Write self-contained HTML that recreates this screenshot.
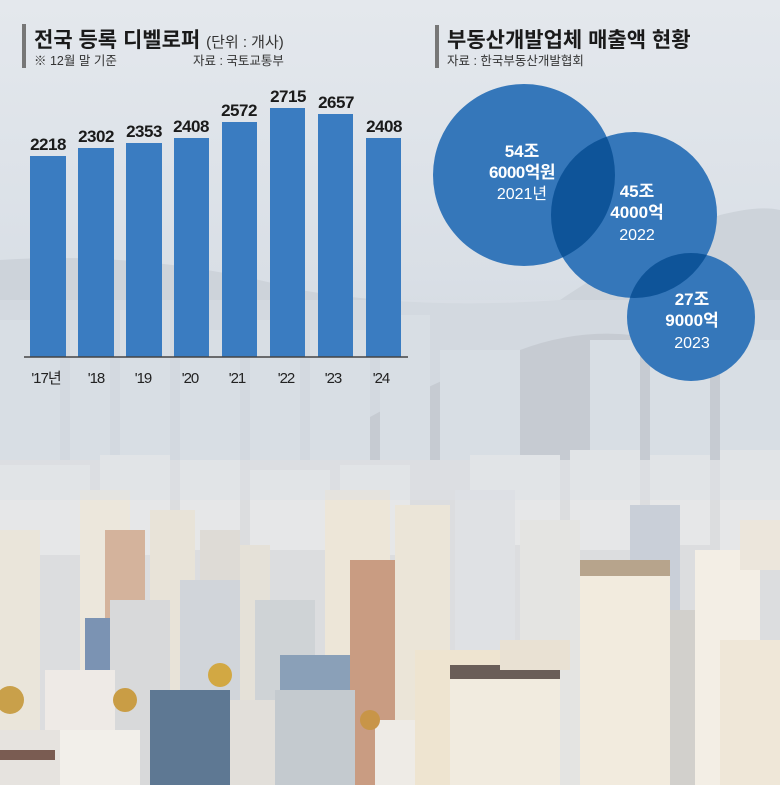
<!DOCTYPE html>
<html><head><meta charset="utf-8"><style>
html,body{margin:0;padding:0}
body{width:780px;height:785px;overflow:hidden;font-family:"Liberation Sans","Noto Sans CJK KR",sans-serif}
</style></head><body>
<svg width="780" height="785" viewBox="0 0 780 785" xmlns="http://www.w3.org/2000/svg" font-family="Liberation Sans, Noto Sans CJK KR, sans-serif">
<defs>
<linearGradient id="sky" x1="0" y1="0" x2="0" y2="1">
<stop offset="0" stop-color="#e4e8ed"/><stop offset="0.35" stop-color="#d9dfe6"/><stop offset="0.55" stop-color="#ced5dc"/><stop offset="1" stop-color="#d4d2cc"/>
</linearGradient>
<clipPath id="c1"><circle cx="524" cy="175" r="91"/></clipPath>
<clipPath id="c2"><circle cx="634" cy="215" r="83"/></clipPath>
</defs>
<rect width="780" height="785" fill="url(#sky)"/>
<!-- mountains -->
<path d="M0 260 Q150 250 300 290 Q420 310 560 300 Q650 240 720 215 Q760 205 780 210 L780 500 L0 500Z" fill="#cdd3da"/>
<path d="M330 440 Q430 380 520 350 Q600 320 680 345 Q740 360 780 350 L780 470 L330 470Z" fill="#a9b1b6" opacity="0.7"/>
<!-- far buildings -->
<g fill="#d6dce2">
<rect x="0" y="320" width="60" height="160"/><rect x="70" y="330" width="40" height="150"/><rect x="120" y="310" width="50" height="170"/>
<rect x="180" y="330" width="60" height="150"/><rect x="250" y="320" width="50" height="160"/><rect x="310" y="330" width="60" height="150"/>
<rect x="380" y="315" width="50" height="165"/><rect x="440" y="350" width="80" height="130"/><rect x="590" y="340" width="50" height="140"/>
<rect x="650" y="360" width="60" height="120"/><rect x="720" y="340" width="60" height="140"/>
</g>
<!-- mid city -->
<g fill="#e6e7e8">
<rect x="0" y="460" width="780" height="330" fill="#dcdddf"/>
<rect x="0" y="465" width="90" height="90"/><rect x="100" y="455" width="70" height="100"/><rect x="180" y="460" width="60" height="90"/>
<rect x="250" y="470" width="80" height="80"/><rect x="340" y="465" width="70" height="90"/><rect x="470" y="455" width="90" height="90"/>
<rect x="570" y="450" width="70" height="100"/><rect x="650" y="455" width="60" height="90"/><rect x="720" y="450" width="60" height="100"/>
</g>
<g>
<rect x="0" y="530" width="40" height="255" fill="#eae5da"/>
<rect x="80" y="490" width="50" height="295" fill="#ece7dc"/>
<rect x="105" y="530" width="40" height="255" fill="#d4b39c"/>
<rect x="150" y="510" width="45" height="275" fill="#e8e3d8"/>
<rect x="200" y="530" width="40" height="255" fill="#dedbd6"/>
<rect x="240" y="545" width="30" height="240" fill="#e5e1d8"/>
<rect x="325" y="490" width="65" height="295" fill="#ede6d8"/>
<rect x="350" y="560" width="45" height="225" fill="#c99c82"/>
<rect x="395" y="505" width="55" height="280" fill="#ebe5d8"/>
<rect x="455" y="490" width="60" height="295" fill="#dfe1e4"/>
<rect x="520" y="520" width="60" height="265" fill="#e4e4e2"/>
<rect x="630" y="505" width="50" height="280" fill="#c9cfd8"/>
<rect x="85" y="618" width="30" height="55" fill="#7b93b3"/>
<rect x="110" y="600" width="60" height="185" fill="#d8d9da"/>
<rect x="180" y="580" width="60" height="205" fill="#d1d5da"/>
<rect x="255" y="600" width="60" height="185" fill="#cfd3d6"/>
<rect x="280" y="655" width="70" height="130" fill="#8aa0b8"/>
<rect x="275" y="690" width="80" height="95" fill="#c4cacf"/>
<rect x="150" y="690" width="80" height="95" fill="#5e7893"/>
<rect x="45" y="670" width="70" height="115" fill="#eeeae6"/>
<rect x="60" y="730" width="80" height="55" fill="#f2efea"/>
<rect x="0" y="730" width="60" height="55" fill="#e6e3df"/>
<rect x="0" y="750" width="55" height="10" fill="#7a5c52"/>
<rect x="230" y="700" width="45" height="85" fill="#e2dfda"/>
<rect x="375" y="720" width="40" height="65" fill="#eeebe6"/>
<rect x="415" y="650" width="90" height="135" fill="#eee4d0"/>
<rect x="450" y="670" width="110" height="115" fill="#f1ebdf"/>
<rect x="450" y="665" width="110" height="14" fill="#6a5e58"/>
<rect x="500" y="640" width="70" height="30" fill="#e9e1d3"/>
<rect x="580" y="570" width="90" height="215" fill="#f2ebde"/>
<rect x="580" y="560" width="90" height="16" fill="#b7a48c"/>
<rect x="670" y="610" width="30" height="175" fill="#d2d0cc"/>
<rect x="695" y="550" width="65" height="235" fill="#f3eee5"/>
<rect x="720" y="640" width="60" height="145" fill="#efe7d8"/>
<rect x="740" y="520" width="40" height="50" fill="#ece6dc"/>
<circle cx="10" cy="700" r="14" fill="#c9a04a"/>
<circle cx="220" cy="675" r="12" fill="#d2a843"/>
<circle cx="125" cy="700" r="12" fill="#c99d45"/>
<circle cx="370" cy="720" r="10" fill="#c89548"/>
</g>
<rect x="0" y="300" width="780" height="200" fill="#dce1e6" opacity="0.45"/>

<!-- left header -->
<rect x="22" y="24" width="4" height="44" fill="#777"/>
<text x="34" y="47" font-size="21" font-weight="bold" fill="#1a1a1a">전국 등록 디벨로퍼 <tspan font-size="15" font-weight="normal" fill="#333">(단위 : 개사)</tspan></text>
<text x="34" y="65" font-size="12.5" fill="#333">※ 12월 말 기준</text>
<text x="193" y="65" font-size="12.5" fill="#333">자료 : 국토교통부</text>

<!-- bars -->
<g fill="#3a7cc1">
<rect x="30" y="156" width="36" height="201"/>
<rect x="78" y="148" width="36" height="209"/>
<rect x="126" y="143" width="36" height="214"/>
<rect x="174" y="138" width="35" height="219"/>
<rect x="222" y="122" width="35" height="235"/>
<rect x="270" y="108" width="35" height="249"/>
<rect x="318" y="114" width="35" height="243"/>
<rect x="366" y="138" width="35" height="219"/>
</g>
<g font-size="17" font-weight="bold" fill="#1a1a1a" text-anchor="middle" letter-spacing="-0.5">
<text x="48" y="150">2218</text><text x="96" y="142">2302</text><text x="144" y="137">2353</text><text x="191" y="132">2408</text>
<text x="239" y="116">2572</text><text x="288" y="102">2715</text><text x="336" y="108">2657</text><text x="384" y="132">2408</text>
</g>
<line x1="24" y1="357" x2="408" y2="357" stroke="#444" stroke-width="1.5"/>
<g font-size="15" fill="#222" text-anchor="middle" letter-spacing="-1">
<text x="46" y="383">'17년</text><text x="96" y="383">'18</text><text x="143" y="383">'19</text><text x="190" y="383">'20</text>
<text x="237" y="383">'21</text><text x="286" y="383">'22</text><text x="333" y="383">'23</text><text x="381" y="383">'24</text>
</g>

<!-- right header -->
<rect x="435" y="25" width="4" height="43" fill="#777"/>
<text x="447" y="47" font-size="21" font-weight="bold" fill="#1a1a1a">부동산개발업체 매출액 현황</text>
<text x="447" y="65" font-size="12.5" fill="#333">자료 : 한국부동산개발협회</text>

<!-- bubbles -->
<g fill="#3577ba">
<circle cx="524" cy="175" r="91"/>
<circle cx="634" cy="215" r="83"/>
<circle cx="691" cy="317" r="64"/>
</g>
<circle cx="634" cy="215" r="83" fill="#0e5499" clip-path="url(#c1)"/>
<circle cx="691" cy="317" r="64" fill="#0e5499" clip-path="url(#c2)"/>
<g fill="#fff" text-anchor="middle">
<text x="522" y="157" font-size="17" font-weight="bold">54조</text>
<text x="522" y="178" font-size="17" font-weight="bold" letter-spacing="-0.5">6000억원</text>
<text x="522" y="199" font-size="16">2021년</text>
<text x="637" y="197" font-size="17" font-weight="bold">45조</text>
<text x="637" y="218" font-size="17" font-weight="bold">4000억</text>
<text x="637" y="240" font-size="16">2022</text>
<text x="692" y="305" font-size="17" font-weight="bold">27조</text>
<text x="692" y="326" font-size="17" font-weight="bold">9000억</text>
<text x="692" y="348" font-size="16">2023</text>
</g>
</svg>
</body></html>
